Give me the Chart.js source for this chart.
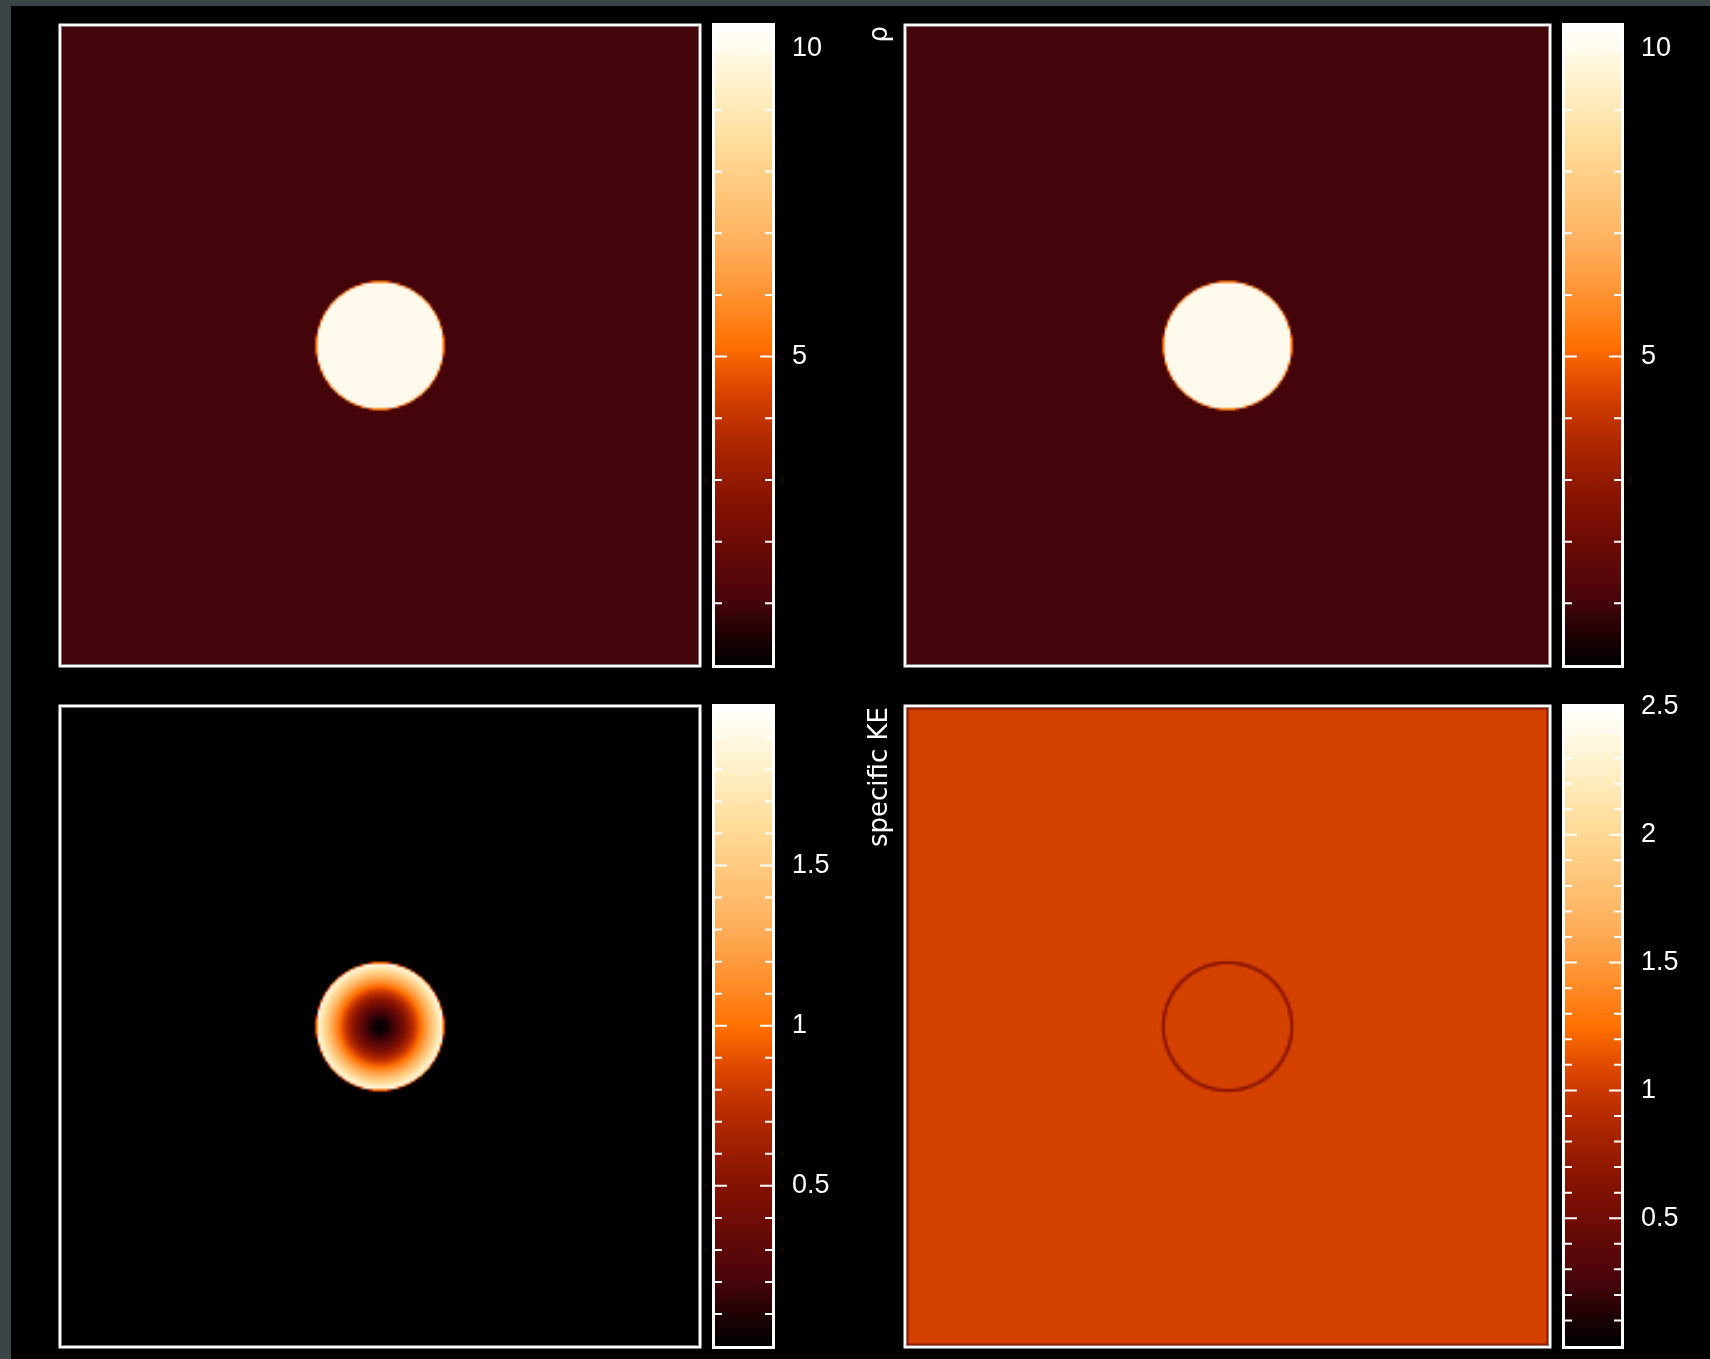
<!DOCTYPE html>
<html>
<head>
<meta charset="utf-8">
<script src="https://cdn.jsdelivr.net/npm/chart.js@4/dist/chart.umd.min.js"></script>
<style>
  html, body { margin: 0; padding: 0; background: #000; }
  body { width: 1710px; height: 1359px; position: relative; overflow: hidden; }
  .rim { position: absolute; background: #3b4548; }
  canvas { position: absolute; }
</style>
</head>
<body>
<div class="rim" style="left:0;top:0;width:1710px;height:6px"></div>
<div class="rim" style="left:0;top:0;width:11px;height:1359px"></div>
<script>
// ---------------- field data ----------------
const gridCells = 256;                 // cells per side of each map
const discCentre = [0.5, 0.5];         // disc centre, unit box coordinates
const discRadius = 0.1;                // disc radius, unit box coordinates

// radial samples across the disc, in units of its radius
const radialStops = [0, 0.1, 0.2, 0.3, 0.4, 0.5, 0.6, 0.7, 0.8, 0.9, 1.0];
const densityDisc = [10, 10, 10, 10, 10, 10, 10, 10, 10, 10, 10];
const speedDisc   = [0, 0.06, 0.18, 0.32, 0.5, 0.7, 0.92, 1.15, 1.41, 1.68, 1.97];
const keDisc      = [1.05, 1.05, 1.05, 1.05, 1.05, 1.05, 1.05, 1.05, 1.05, 1.05, 1.05];

// one entry per map: density, density, speed, specific KE
const discProfiles  = [densityDisc, densityDisc, speedDisc, keDisc];
const ambientValue  = [1, 1, 0, 1.05];
const ringDepth     = [0, 0, 0, 0.45];         // dip along the disc edge
const boundaryValue = [null, null, null, 0.7]; // value of the outermost cells

// shape of the dip across the disc edge (offset in cells)
const ringOffsets = [-1, -0.5, 0, 0.5, 1];
const ringShape   = [0, 0.6, 1, 0.6, 0];

// colour bars
const axisTitles = ['', 'ρ', '', 'specific KE'];
const scaleMin   = [0, 0, 0, 0];
const scaleMax   = [10.36, 10.36, 1.995, 2.5];
const minorStep  = [1, 1, 0.1, 0.1];
const tickLabels = [['5', '10'], ['5', '10'], ['0.5', '1', '1.5'], ['0.5', '1', '1.5', '2', '2.5']];

// colour table (fraction of range -> colour)
const cmapPos = [0, 0.05, 0.1, 0.15, 0.2, 0.25, 0.3, 0.35, 0.4, 0.45, 0.5,
                 0.55, 0.6, 0.65, 0.7, 0.75, 0.8, 0.85, 0.9, 0.95, 1];
const cmapHex = ['#000000', '#200204', '#46040a', '#5c0808', '#700c06', '#821200',
                 '#981c00', '#b02800', '#ca3800', '#e65000', '#ff7000', '#ff8620',
                 '#ff9a3c', '#ffac58', '#ffbc6c', '#ffca80', '#ffd894', '#ffe4ac',
                 '#ffefc6', '#fff8e2', '#ffffff'];

// ---------------- page layout (pixels) ----------------
const mapBoxes = [
  { l: 61,  t: 26,  r: 699,  b: 665 },
  { l: 910, t: 26,  r: 1549, b: 665 },
  { l: 61,  t: 707, r: 699,  b: 1346 },
  { l: 910, t: 707, r: 1549, b: 1346 }
];
const barBoxes = [
  { l: 715,  t: 26,  r: 772,  b: 665 },
  { l: 1565, t: 26,  r: 1621, b: 665 },
  { l: 715,  t: 707, r: 772,  b: 1346 },
  { l: 1565, t: 707, r: 1621, b: 1346 }
];

// ---------------- helpers ----------------
const cmapRGB = cmapHex.map(h => [parseInt(h.slice(1, 3), 16), parseInt(h.slice(3, 5), 16), parseInt(h.slice(5, 7), 16)]);

function lookup(xs, ys, x) {
  if (x <= xs[0]) return ys[0];
  for (let k = 1; k < xs.length; k++) {
    if (x <= xs[k]) {
      const f = (x - xs[k - 1]) / (xs[k] - xs[k - 1]);
      return ys[k - 1] + f * (ys[k] - ys[k - 1]);
    }
  }
  return ys[ys.length - 1];
}

function colourAt(frac) {
  frac = Math.min(1, Math.max(0, frac));
  let k = 1;
  while (k < cmapPos.length - 1 && frac > cmapPos[k]) k++;
  const f = (frac - cmapPos[k - 1]) / (cmapPos[k] - cmapPos[k - 1]);
  const a = cmapRGB[k - 1], b = cmapRGB[k];
  return [0, 1, 2].map(c => Math.round(a[c] + f * (b[c] - a[c])));
}

function buildField(p) {
  const N = gridCells, sub = 4;
  const out = new Float32Array(N * N);
  for (let j = 0; j < N; j++) {
    for (let i = 0; i < N; i++) {
      const cx = (i + 0.5) / N, cy = 1 - (j + 0.5) / N;
      const d = Math.hypot(cx - discCentre[0], cy - discCentre[1]);
      let hits = 0;
      for (let a = 0; a < sub; a++) {
        for (let b = 0; b < sub; b++) {
          const sx = (i + (a + 0.5) / sub) / N, sy = 1 - (j + (b + 0.5) / sub) / N;
          if (Math.hypot(sx - discCentre[0], sy - discCentre[1]) < discRadius) hits++;
        }
      }
      const cover = hits / (sub * sub);
      const inner = lookup(radialStops, discProfiles[p], Math.min(d / discRadius, 1));
      let v = cover * inner + (1 - cover) * ambientValue[p];
      v -= ringDepth[p] * lookup(ringOffsets, ringShape, (d - discRadius) * N);
      if (boundaryValue[p] !== null && (i === 0 || j === 0 || i === N - 1 || j === N - 1)) v = boundaryValue[p];
      out[j * N + i] = v;
    }
  }
  return out;
}

function fieldImage(p) {
  const N = gridCells;
  const values = buildField(p);
  const off = document.createElement('canvas');
  off.width = N; off.height = N;
  const octx = off.getContext('2d');
  const img = octx.createImageData(N, N);
  const span = scaleMax[p] - scaleMin[p];
  for (let k = 0; k < N * N; k++) {
    const c = colourAt((values[k] - scaleMin[p]) / span);
    img.data[4 * k] = c[0]; img.data[4 * k + 1] = c[1]; img.data[4 * k + 2] = c[2]; img.data[4 * k + 3] = 255;
  }
  octx.putImageData(img, 0, 0);
  return off;
}

function makeCanvas(left, top, w, h) {
  const cv = document.createElement('canvas');
  cv.width = w; cv.height = h;
  cv.style.left = left + 'px'; cv.style.top = top + 'px';
  cv.style.width = w + 'px'; cv.style.height = h + 'px';
  document.body.appendChild(cv);
  return cv;
}

// draws the map image inside the plot area, placed by the x/y scales
const mapPlugin = {
  id: 'mapImage',
  beforeDatasetsDraw(chart, args, opts) {
    const { ctx, scales: { x, y } } = chart;
    const left = x.getPixelForValue(0), right = x.getPixelForValue(1);
    const top = y.getPixelForValue(1), bottom = y.getPixelForValue(0);
    ctx.save();
    ctx.imageSmoothingEnabled = true;
    ctx.drawImage(opts.image, left, top, right - left, bottom - top);
    ctx.restore();
  },
  afterDraw(chart) {
    const { ctx, chartArea: a } = chart;
    ctx.save();
    ctx.strokeStyle = '#ffffff';
    ctx.lineWidth = 2.5;
    ctx.strokeRect(a.left - 1.25, a.top - 1.25, a.right - a.left + 2.5, a.bottom - a.top + 2.5);
    ctx.strokeStyle = 'rgba(150,150,150,0.8)';
    ctx.lineWidth = 1;
    ctx.strokeRect(a.left + 0.5, a.top + 0.5, a.right - a.left - 1, a.bottom - a.top - 1);
    ctx.restore();
  }
};

// inward tick marks on both sides of the colour bar, plus its frame
const barPlugin = {
  id: 'barTicks',
  afterDraw(chart, args, opts) {
    const { ctx, chartArea: a, scales: { y } } = chart;
    ctx.save();
    ctx.strokeStyle = '#ffffff';
    ctx.lineWidth = 2;
    y.ticks.forEach(t => {
      const py = y.getPixelForValue(t.value);
      if (py < a.top + 3 || py > a.bottom - 3) return;
      const major = opts.labels.some(s => Math.abs(Number(s) - t.value) < 1e-6);
      const len = major ? 12 : 7;
      ctx.beginPath();
      ctx.moveTo(a.left, py); ctx.lineTo(a.left + len, py);
      ctx.moveTo(a.right - len, py); ctx.lineTo(a.right, py);
      ctx.stroke();
    });
    ctx.lineWidth = 3;
    ctx.strokeRect(a.left - 1.5, a.top - 1.5, a.right - a.left + 3, a.bottom - a.top + 3);
    ctx.restore();
  }
};

Chart.defaults.color = '#ffffff';
Chart.defaults.font.family = "'Liberation Sans', Arial, sans-serif";

for (let p = 0; p < 4; p++) {
  // ----- map -----
  const m = mapBoxes[p];
  const titled = axisTitles[p] !== '';
  const axisW = titled ? 60 : 0;
  const pad = 4;
  const mcv = makeCanvas(m.l - pad - axisW, m.t - pad, (m.r - m.l) + 2 * pad + axisW, (m.b - m.t) + 2 * pad);
  new Chart(mcv, {
    type: 'scatter',
    data: { datasets: [] },
    options: {
      responsive: false,
      animation: false,
      events: [],
      layout: { padding: { left: titled ? 0 : pad, right: pad, top: pad, bottom: pad } },
      plugins: { legend: { display: false }, tooltip: { enabled: false }, mapImage: { image: fieldImage(p) } },
      scales: {
        x: { type: 'linear', min: 0, max: 1, display: false },
        y: {
          type: 'linear', min: 0, max: 1, position: 'left', display: titled,
          ticks: { display: false },
          grid: { display: false, drawTicks: false },
          border: { display: false },
          title: {
            display: titled, text: axisTitles[p], color: '#ffffff', align: 'end',
            font: { family: "'DejaVu Sans', sans-serif", size: 26 },
            padding: { top: 19, bottom: 0 }
          },
          afterFit(scale) { scale.width = axisW; }
        }
      }
    },
    plugins: [mapPlugin]
  });

  // ----- colour bar -----
  const b = barBoxes[p];
  const labelW = 90;
  const vpad = 40;
  const bcv = makeCanvas(b.l - 5, b.t - vpad, (b.r - b.l) + 5 + labelW, (b.b - b.t) + 2 * vpad);
  const labels = tickLabels[p];
  new Chart(bcv, {
    type: 'bar',
    data: {
      labels: [''],
      datasets: [{
        data: [[scaleMin[p], scaleMax[p]]],
        borderWidth: 0,
        barPercentage: 1,
        categoryPercentage: 1,
        backgroundColor(c) {
          const chart = c.chart;
          if (!chart.chartArea) return '#000';
          const ys = chart.scales.y;
          const g = chart.ctx.createLinearGradient(0, ys.getPixelForValue(scaleMin[p]), 0, ys.getPixelForValue(scaleMax[p]));
          cmapPos.forEach((pos, k) => g.addColorStop(pos, cmapHex[k]));
          return g;
        }
      }]
    },
    options: {
      responsive: false,
      animation: false,
      events: [],
      layout: { padding: { left: 5, right: 0, top: vpad, bottom: vpad } },
      plugins: { legend: { display: false }, tooltip: { enabled: false }, barTicks: { labels } },
      scales: {
        x: { display: false },
        y: {
          position: 'right',
          min: scaleMin[p], max: scaleMax[p],
          grid: { display: false, drawTicks: false },
          border: { display: false },
          ticks: {
            stepSize: minorStep[p], autoSkip: false, includeBounds: false,
            padding: 20, crossAlign: 'near', color: '#ffffff',
            font: { size: 27 },
            callback(v) {
              const hit = labels.find(s => Math.abs(Number(s) - v) < 1e-6);
              return hit === undefined ? '' : hit;
            }
          },
          afterFit(scale) { scale.width = labelW; }
        }
      }
    },
    plugins: [barPlugin]
  });
}
</script>
</body>
</html>
